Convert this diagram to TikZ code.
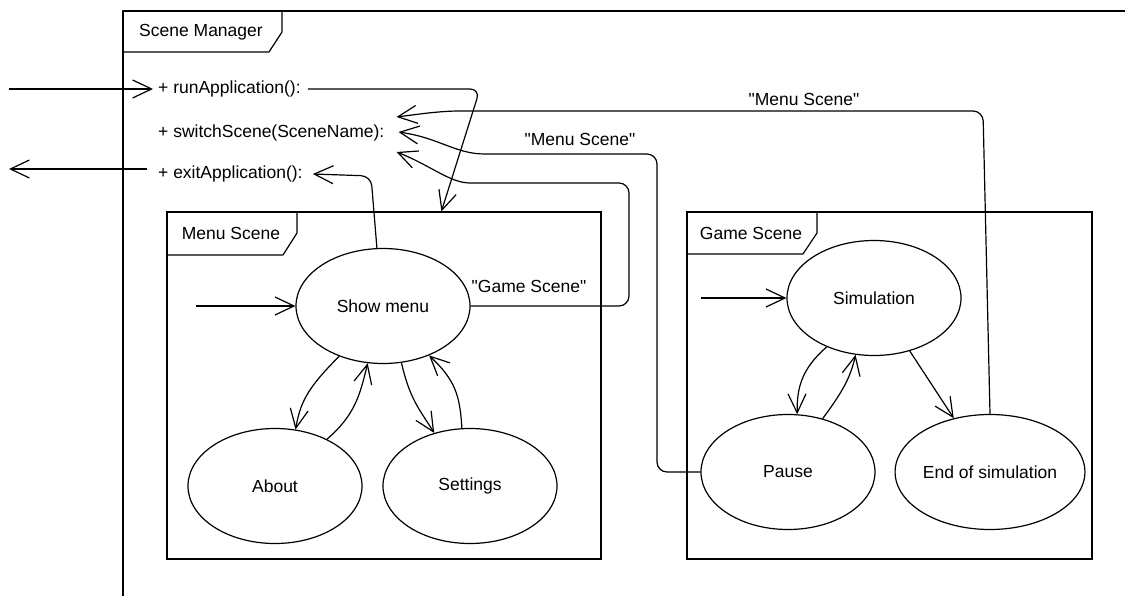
\documentclass[tikz,border=0pt]{standalone}
\usepackage{fontspec}
\setmainfont{Liberation Sans}[Ligatures=TeXOff]
\usetikzlibrary{arrows.meta,calc,shapes.geometric}
\begin{document}
\begin{tikzpicture}[x=1pt,y=-1pt,
  every node/.style={font=\fontsize{17.5}{20}\selectfont},
  ln/.style={line width=1.2pt, line join=round},
  arr/.style={ln, -{Straight Barb[length=19pt,width=18pt,line width=1.2pt]}},
  state/.style={ellipse, draw, line width=1.2pt, minimum width=174pt, minimum height=115pt, inner sep=0pt},
  frm/.style={draw, line width=1.2pt, inner sep=0pt},
  lbl/.style={inner sep=0pt, anchor=west},
  tabtxt/.style={inner sep=0pt},
]
\useasboundingbox (0,0) rectangle (1125,596);

% outer frame
\draw[ln] (123,596) -- (123,11) -- (1125,11);
\draw[ln] (123,52) -- (269,52) -- (282,32) -- (282,11);
\node[tabtxt] (smtab) at (201,32) {Scene Manager};

% operations
\node[lbl] (run) at (158,89) {+ runApplication():};
\node[lbl] (switch) at (158,133) {+ switchScene(SceneName):};
\node[lbl] (exit) at (158,174) {+ exitApplication():};
\coordinate (runin) at (9,89);
\coordinate (exitout) at (9,169);
\draw[arr] (runin) -- ([xshift=-5pt]run.west);
\draw[arr] ([xshift=-11pt,yshift=5pt]exit.west) -- (exitout);

% menu scene frame
\node[frm, minimum width=434pt, minimum height=347pt] (menuf) at (384,385.5) {};
\draw[ln] (167,255) -- (283,255) -- (297,233) -- (297,212);
\node[tabtxt] (mtab) at (231,233) {Menu Scene};

% game scene frame
\node[frm, minimum width=405pt, minimum height=347pt] (gamef) at (889.5,385.5) {};
\draw[ln] (687,254) -- (803,254) -- (817,233) -- (817,212);
\node[tabtxt] (gtab) at (751,233) {Game Scene};

% states
\node[state] (show) at (383,306) {Show menu};
\node[state] (about) at (275,486) {About};
\node[state] (settings) at (470,486) {Settings};
\node[state] (sim) at (874,298) {Simulation};
\node[state] (pause) at (788,472) {Pause};
\node[state] (endsim) at (990,472) {End of simulation};

% initial arrows
\coordinate (mi) at (196,306);
\coordinate (gi) at (701,298);
\draw[arr] (mi) -- (show.west);
\draw[arr] (gi) -- (sim.west);

% menu transitions
\draw[arr] (show.229) .. controls (305,390) and (300,405) .. (about.70);
\draw[arr] (about.42) .. controls (355,415) and (360,395) .. (show.255);
\draw[arr] (show.288) .. controls (410,400) and (420,410) .. (settings.124);
\draw[arr] (settings.98) .. controls (460,395) and (455,380) .. (show.313);

% game transitions
\draw[arr] (sim.226) .. controls (800,370) and (797,390) .. (pause.81);
\draw[arr] (pause.57) .. controls (840,395) and (850,380) .. (sim.252);
\draw[arr] (sim.304) -- (endsim.124);

% scene manager connectors
\draw[arr, rounded corners=10pt] ([xshift=7pt]run.east) -- (480,89) -- ([xshift=275pt]menuf.north west);
\draw[arr, rounded corners=10pt] (show.96) -- (371,176) -- ([xshift=10pt]exit.east);
\draw[arr, rounded corners=10pt] (show.east) -- (629,306) -- (629,183) -- (480,183) .. controls (450,183) and (430,165) .. ([xshift=12pt,yshift=-19pt]switch.east);
\draw[arr, rounded corners=10pt] (pause.west) -- (657,472) -- (657,154) -- (495,154) .. controls (455,154) and (440,138) .. ([xshift=14pt,yshift=1pt]switch.east);
\draw[arr, rounded corners=10pt] (endsim.north) -- (983,111) -- (470,111) .. controls (440,111) and (420,114) .. ([xshift=12pt,yshift=16pt]switch.east);

% labels
\node[tabtxt] (l1) at (529,286) {"Game Scene"};
\node[tabtxt] (l2) at (580,139) {"Menu Scene"};
\node[tabtxt] (l3) at (804,99) {"Menu Scene"};
\end{tikzpicture}
\end{document}
